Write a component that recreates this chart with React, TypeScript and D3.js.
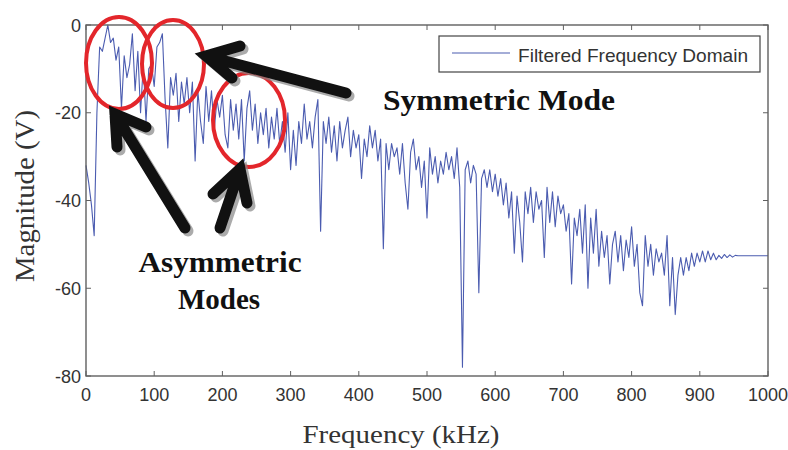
import React from "react";
import * as d3 from "d3";

// Frequency step (kHz) between consecutive samples of the magnitude series
const FREQ_STEP = 4;

// Magnitude (V) sampled every 4 kHz from 0 to 1000 kHz
const magnitude: number[] = [
  -32, -36, -41, -48, -20, -5, -6, -3, 0, -4,
  -3, -8, -5, -19, -7, -12, -9, -2, -15, -6,
  -20, -9, -22, -10, -9, -14, -5, -4, -2, -17,
  -28, -12, -16, -11, -22, -13, -18, -12, -20, -13,
  -31, -15, -22, -27, -14, -22, -15, -24, -17, -21,
  -16, -25, -28, -17, -24, -18, -26, -17, -31, -19,
  -15, -24, -18, -27, -20, -25, -19, -28, -21, -26,
  -19, -27, -22, -29, -20, -33, -24, -32, -22, -27,
  -18, -26, -22, -28, -21, -17, -47, -22, -27, -21,
  -29, -23, -31, -22, -28, -24, -21, -30, -24, -28,
  -25, -35, -26, -30, -23, -28, -24, -31, -26, -51,
  -27, -33, -27, -30, -28, -34, -27, -36, -42, -29,
  -26, -33, -30, -37, -31, -44, -28, -34, -30, -36,
  -31, -34, -29, -33, -30, -35, -28, -37, -78, -33,
  -31, -36, -32, -34, -61, -35, -33, -37, -33, -38,
  -34, -39, -35, -41, -36, -44, -38, -52, -39, -45,
  -54, -38, -43, -37, -45, -38, -42, -40, -53, -37,
  -45, -38, -46, -39, -43, -41, -47, -43, -59, -44,
  -48, -42, -52, -41, -60, -44, -52, -42, -55, -47,
  -53, -48, -59, -50, -47, -54, -48, -56, -49, -53,
  -46, -55, -50, -61, -64, -48, -55, -50, -57, -51,
  -54, -52, -57, -48, -64, -53, -66, -57, -53, -57,
  -53, -56, -52, -55, -52, -54, -51.5, -54, -51.5, -53.5,
  -52, -53.5, -52.5, -53.2, -52.3, -53, -52.4, -52.9, -52.5, -52.6,
  -52.6, -52.6, -52.6, -52.6, -52.6, -52.6, -52.6, -52.6, -52.6, -52.6,
  -52.6,
];

const xTicks = [0, 100, 200, 300, 400, 500, 600, 700, 800, 900, 1000];
const yTicks = [0, -20, -40, -60, -80];
const legendLabel = "Filtered Frequency Domain";
const xTitle = "Frequency (kHz)";
const yTitle = "Magnitude (V)";

const W = 788;
const H = 450;
const L = 86, R = 768, T = 25, B = 376;

type Arrow = { tail: [number, number]; tip: [number, number]; b1: [number, number]; b2: [number, number] };
const arrows: Arrow[] = [
  { tail: [346, 93], tip: [206, 56], b1: [240, 46], b2: [232, 78] },
  { tail: [185, 228], tip: [115, 114], b1: [146, 127], b2: [117, 147] },
  { tail: [220, 228], tip: [240, 169], b1: [213, 194], b2: [247, 203] },
];

const ellipses = [
  { cx: 119, cy: 63, rx: 33, ry: 46 },
  { cx: 173, cy: 64, rx: 31, ry: 44 },
  { cx: 249, cy: 120, rx: 36, ry: 47 },
];

export default function App() {
  const x = d3.scaleLinear().domain([0, 1000]).range([L, R]);
  const y = d3.scaleLinear().domain([-80, 0]).range([B, T]);
  const line = d3
    .line<number>()
    .x((_, i) => x(i * FREQ_STEP))
    .y((d) => y(d));
  const axisColor = "#606060";
  const tickLen = 5;

  const arrowPath = (a: Arrow, dx = 0, dy = 0) => {
    const p = (q: [number, number]) => `${q[0] + dx},${q[1] + dy}`;
    return `M${p(a.b1)}L${p(a.tip)}L${p(a.b2)}M${p(a.tip)}L${p(a.tail)}`;
  };

  return (
    <svg
      width={W}
      height={H}
      style={{ position: "absolute", left: 0, top: 0, background: "#fff" }}
    >
      <rect x={0} y={0} width={W} height={H} fill="#fff" />
      <path d={line(magnitude) || ""} fill="none" stroke="#4b5cb0" strokeWidth={1.1} strokeLinejoin="round" />

      {/* axes box */}
      <rect x={L} y={T} width={R - L} height={B - T} fill="none" stroke={axisColor} strokeWidth={1.4} />
      {xTicks.map((t) => (
        <g key={"x" + t}>
          <line x1={x(t)} x2={x(t)} y1={B} y2={B - tickLen} stroke={axisColor} strokeWidth={1} />
          <line x1={x(t)} x2={x(t)} y1={T} y2={T + tickLen} stroke={axisColor} strokeWidth={1} />
          <text x={x(t)} y={401} textAnchor="middle" fontFamily="Liberation Sans, Arial, sans-serif" fontSize={18} fill="#333">
            {t}
          </text>
        </g>
      ))}
      {yTicks.map((t) => (
        <g key={"y" + t}>
          <line x1={L} x2={L + tickLen} y1={y(t)} y2={y(t)} stroke={axisColor} strokeWidth={1} />
          <line x1={R} x2={R - tickLen} y1={y(t)} y2={y(t)} stroke={axisColor} strokeWidth={1} />
          <text x={81} y={y(t) + 6.5} textAnchor="end" fontFamily="Liberation Sans, Arial, sans-serif" fontSize={18} fill="#333">
            {t}
          </text>
        </g>
      ))}

      {/* legend */}
      <rect x={439} y={36} width={321} height={36} fill="#fff" stroke="#444" strokeWidth={1.2} />
      <line x1={452} x2={510} y1={53} y2={53} stroke="#4b5cb0" strokeWidth={1.1} />
      <text x={518} y={62} fontFamily="Liberation Sans, Arial, sans-serif" fontSize={18.5} fill="#333" textLength={230} lengthAdjust="spacingAndGlyphs">
        {legendLabel}
      </text>

      {/* axis titles */}
      <text x={401} y={443} textAnchor="middle" fontFamily="Liberation Serif, Times New Roman, serif" fontSize={25} fill="#333" textLength={197} lengthAdjust="spacingAndGlyphs">
        {xTitle}
      </text>
      <text
        transform={`translate(34,196) rotate(-90)`}
        textAnchor="middle"
        fontFamily="Liberation Serif, Times New Roman, serif"
        fontSize={27}
        fill="#333"
        textLength={172}
        lengthAdjust="spacingAndGlyphs"
      >
        {yTitle}
      </text>

      {/* annotations */}
      {ellipses.map((e, i) => (
        <ellipse key={"e" + i} cx={e.cx} cy={e.cy} rx={e.rx} ry={e.ry} fill="none" stroke="#e3262b" strokeWidth={4} />
      ))}
      {arrows.map((a, i) => (
        <g key={"a" + i}>
          <path d={arrowPath(a, 3, 3)} fill="none" stroke="#888" strokeOpacity={0.7} strokeWidth={11} strokeLinejoin="miter" strokeLinecap="round" />
          <path d={arrowPath(a)} fill="none" stroke="#111" strokeWidth={11} strokeLinejoin="miter" strokeLinecap="round" />
        </g>
      ))}
      <text x={383} y={110} fontFamily="Liberation Serif, Times New Roman, serif" fontWeight="bold" fontSize={29} fill="#111" textLength={232} lengthAdjust="spacingAndGlyphs">
        Symmetric Mode
      </text>
      <text x={220} y={272} textAnchor="middle" fontFamily="Liberation Serif, Times New Roman, serif" fontWeight="bold" fontSize={29} fill="#111" textLength={163} lengthAdjust="spacingAndGlyphs">
        Asymmetric
      </text>
      <text x={219} y={309} textAnchor="middle" fontFamily="Liberation Serif, Times New Roman, serif" fontWeight="bold" fontSize={29} fill="#111">
        Modes
      </text>
    </svg>
  );
}
